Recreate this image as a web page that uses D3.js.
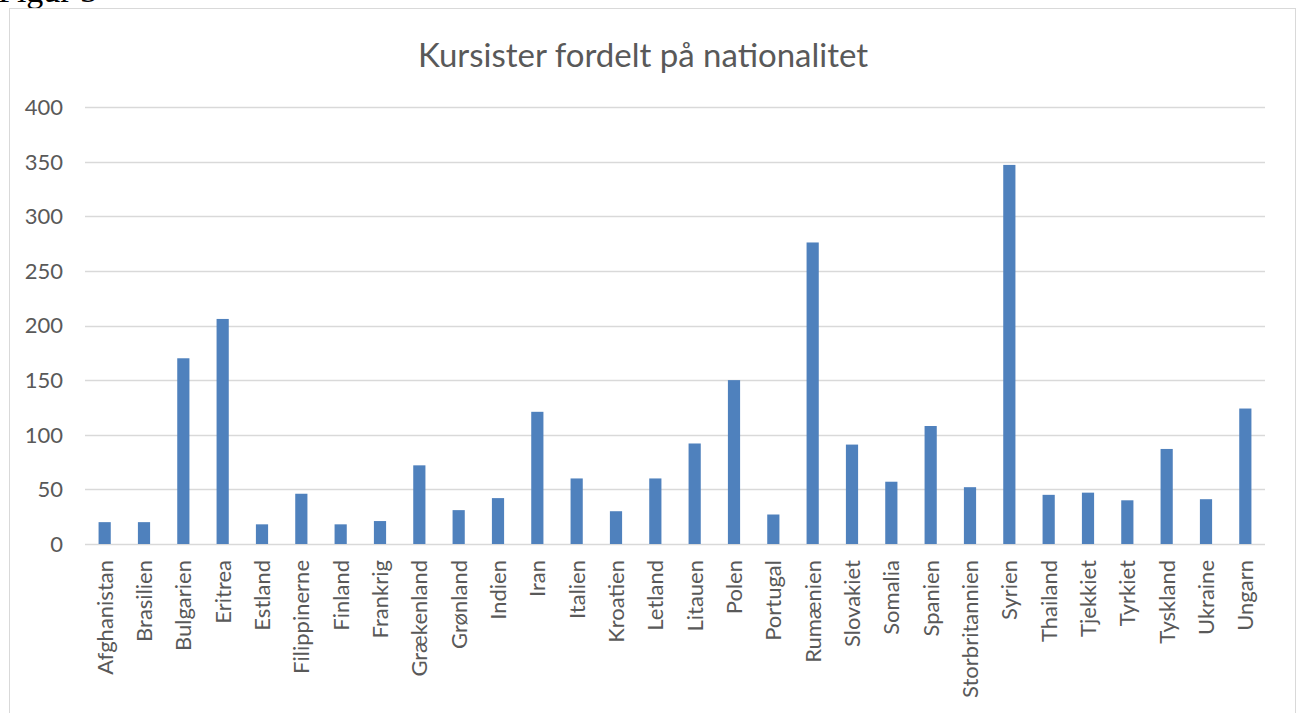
<!DOCTYPE html>
<html>
<head>
<meta charset="utf-8">
<script src="https://cdn.jsdelivr.net/npm/d3@7"></script>
<style>
  body { margin: 0; background: #fff; }
  svg { display: block; }
</style>
</head>
<body>
<div id="chart"></div>
<script>
const countries = ["Afghanistan", "Brasilien", "Bulgarien", "Eritrea", "Estland", "Filippinerne",
  "Finland", "Frankrig", "Grækenland", "Grønland", "Indien", "Iran", "Italien", "Kroatien",
  "Letland", "Litauen", "Polen", "Portugal", "Rumænien", "Slovakiet", "Somalia", "Spanien",
  "Storbritannien", "Syrien", "Thailand", "Tjekkiet", "Tyrkiet", "Tyskland", "Ukraine", "Ungarn"]
const students = [20, 20, 170, 206, 18, 46, 18, 21, 72, 31, 42, 121, 60, 30, 60, 92, 150, 27,
  276, 91, 57, 108, 52, 347, 45, 47, 40, 87, 41, 124]
const yTicks = [0, 50, 100, 150, 200, 250, 300, 350, 400]

const width = 1298
const height = 713
const margin = { top: 107, right: 33, bottom: 169, left: 85 }

const svg = d3.select("#chart")
  .append("svg")
  .attr("width", width)
  .attr("height", height)

// page caption above the chart, cut off by the top edge
svg.append("text")
  .attr("x", -2)
  .attr("y", 2)
  .attr("font-family", "Liberation Serif")
  .attr("font-size", 34)
  .attr("fill", "#000")
  .text("Figur 3")

// chart frame
svg.append("rect")
  .attr("x", 9.5)
  .attr("y", 8.5)
  .attr("width", 1286)
  .attr("height", 720)
  .attr("fill", "#fff")
  .attr("stroke", "#d9d9d9")

const x = d3.scaleBand()
  .domain(countries)
  .range([margin.left, width - margin.right])
  .paddingInner(0.69)
  .paddingOuter(0.345)

const y = d3.scaleLinear()
  .domain([0, 400])
  .range([height - margin.bottom, margin.top])

svg.append("text")
  .attr("x", 643)
  .attr("y", 67)
  .attr("text-anchor", "middle")
  .attr("font-family", "Lato")
  .attr("font-size", 33)
  .attr("fill", "#595959")
  .text("Kursister fordelt på nationalitet")

// gridlines
svg.append("g")
  .selectAll("line")
  .data(yTicks)
  .join("line")
  .attr("x1", margin.left)
  .attr("x2", width - margin.right)
  .attr("y1", (d) => Math.round(y(d)) + 0.5)
  .attr("y2", (d) => Math.round(y(d)) + 0.5)
  .attr("stroke", "#d9d9d9")
  .attr("stroke-width", 1.3)

svg.append("g")
  .selectAll("text")
  .data(yTicks)
  .join("text")
  .attr("x", 63)
  .attr("y", (d) => y(d))
  .attr("dy", "0.36em")
  .attr("text-anchor", "end")
  .attr("font-family", "Lato")
  .attr("font-size", 22)
  .attr("fill", "#595959")
  .text((d) => d)

svg.append("g")
  .selectAll("rect")
  .data(students)
  .join("rect")
  .attr("x", (d, i) => x(countries[i]))
  .attr("width", x.bandwidth())
  .attr("y", (d) => y(d))
  .attr("height", (d) => y(0) - y(d))
  .attr("fill", "#4f81bd")

// category labels, rotated
svg.append("g")
  .selectAll("text")
  .data(countries)
  .join("text")
  .attr("transform", (d) => `translate(${x(d) + x.bandwidth() / 2},560) rotate(-90)`)
  .attr("dy", "0.36em")
  .attr("text-anchor", "end")
  .attr("font-family", "Lato")
  .attr("font-size", 22)
  .attr("fill", "#595959")
  .text((d) => d)
</script>
</body>
</html>
